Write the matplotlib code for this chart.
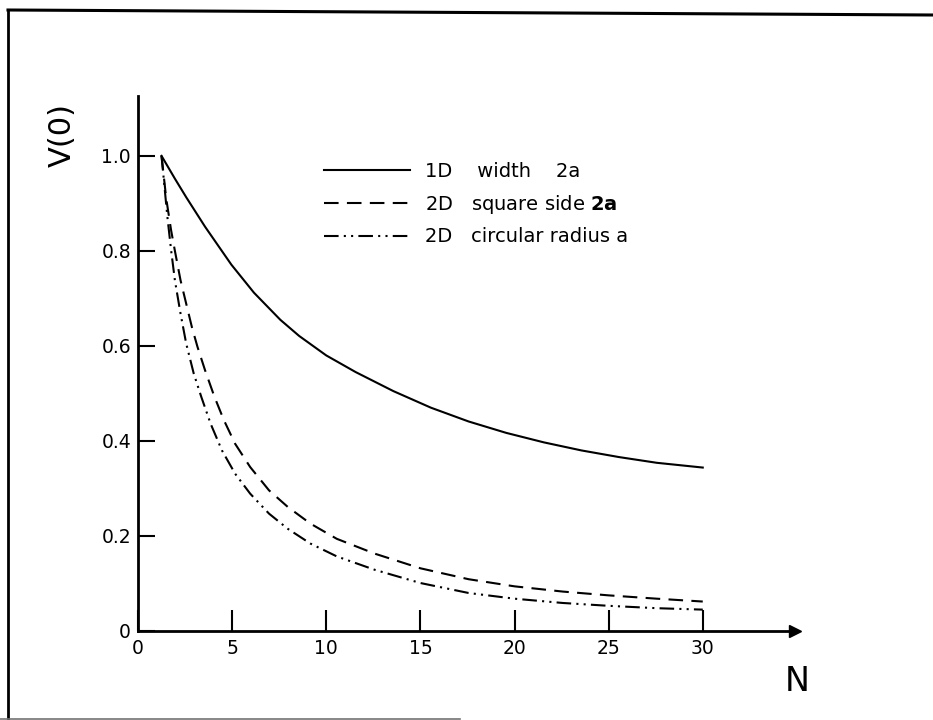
import numpy as np
import matplotlib.pyplot as plt
from matplotlib.lines import Line2D

# V(0) against N for the three source geometries
n_1d = [1.25, 1.96, 2.56, 3.56, 4.96, 6.16, 7.56, 8.56, 10.0, 11.56, 13.56, 15.56,
        17.56, 19.56, 21.56, 23.56, 25.56, 27.56, 30.0]
v_1d = [1.0, 0.952, 0.913, 0.851, 0.771, 0.712, 0.655, 0.621, 0.580, 0.545, 0.505, 0.470,
        0.441, 0.417, 0.397, 0.380, 0.366, 0.354, 0.344]

n_sq = [1.25, 1.5, 1.76, 1.96, 2.26, 2.56, 2.86, 3.16, 3.56, 4.06, 4.56, 5.16, 5.96, 6.96,
        7.96, 9.16, 10.56, 12.56, 15.0, 17.56, 20.0, 22.56, 25.0, 27.56, 30.0]
v_sq = [1.0, 0.91, 0.843, 0.80, 0.738, 0.689, 0.64, 0.598, 0.549, 0.493, 0.444, 0.394, 0.345,
        0.296, 0.261, 0.226, 0.194, 0.163, 0.132, 0.109, 0.094, 0.083, 0.075, 0.068, 0.062]

n_circ = [1.25, 1.56, 1.76, 1.96, 2.26, 2.56, 2.96, 3.36, 3.86, 4.46, 5.16, 5.96, 6.96, 7.96,
          9.16, 10.56, 12.56, 15.0, 17.56, 20.0, 22.56, 25.0, 27.56, 30.0]
v_circ = [1.0, 0.872, 0.801, 0.738, 0.668, 0.605, 0.542, 0.493, 0.436, 0.380, 0.331, 0.289,
          0.247, 0.215, 0.184, 0.157, 0.129, 0.101, 0.080, 0.068, 0.059, 0.053, 0.048, 0.045]

labels = ["1D    width    2a",
          "2D   square side $\\mathbf{2a}$",
          "2D   circular radius a"]

xticks = [0, 5, 10, 15, 20, 25, 30]
yticks = [0, 0.2, 0.4, 0.6, 0.8, 1.0]
yticklabels = ["0", "0.2", "0.4", "0.6", "0.8", "1.0"]

W, H = 933, 720
fig = plt.figure(figsize=(W / 100, H / 100), dpi=100)
ax = fig.add_axes([138 / W, 1 - 631 / H, (795 - 138) / W, (631 - 96) / H])

lw = 1.5
ax.plot(n_1d, v_1d, color="black", lw=lw, label=labels[0])
ax.plot(n_sq, v_sq, color="black", lw=lw, linestyle=(0, (7, 4)), label=labels[1])
ax.plot(n_circ, v_circ, color="black", lw=lw,
        linestyle=(0, (7, 2.5, 1, 2.5, 1, 2.5)), label=labels[2])

ax.set_xlim(0, 34.9)
ax.set_ylim(0, 1.126)
for side in ["top", "right"]:
    ax.spines[side].set_visible(False)
for side in ["left", "bottom"]:
    ax.spines[side].set_linewidth(2)

ax.set_xticks(xticks)
ax.set_yticks(yticks)
ax.set_yticklabels(yticklabels)
ax.tick_params(axis="x", direction="in", length=15, width=1.5, pad=6, labelsize=13.5)
ax.tick_params(axis="y", direction="in", length=12, width=1.5, pad=5, labelsize=13.5)

# arrow head at the end of the N axis
ax.plot(1, 0, ">", color="black", ms=9, transform=ax.transAxes, clip_on=False)

ax.text(1.003, -0.095, "N", transform=ax.transAxes, ha="center", va="center", fontsize=24)
fig.text(62 / W, 1 - 135 / H, "V(0)", rotation=90, ha="center", va="center", fontsize=22)

ax.legend(loc="upper left", bbox_to_anchor=(324 / W, 1 - 162 / H),
          bbox_transform=fig.transFigure, frameon=False, fontsize=14,
          handlelength=4.4, handletextpad=0.8, labelspacing=0.6,
          borderpad=0, borderaxespad=0)

# page frame
fig.add_artist(Line2D([8 / W, 1], [1 - 10 / H, 1 - 15 / H], color="black", lw=2.2))
fig.add_artist(Line2D([8 / W, 8 / W], [1 - 10 / H, 0], color="black", lw=2))
fig.add_artist(Line2D([0, 460 / W], [1.5 / H, 1.5 / H], color="0.45", lw=1.2))

fig.savefig("out.png", dpi=100)
